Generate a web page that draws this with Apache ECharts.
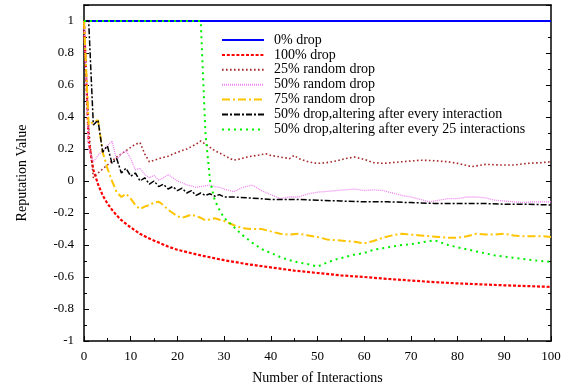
<!DOCTYPE html>
<html><head><meta charset="utf-8">
<script src="https://cdn.jsdelivr.net/npm/echarts@6/dist/echarts.min.js"></script>
<style>html,body{margin:0;padding:0;background:#fff}#c{width:579px;height:392px}</style>
</head><body><div id="c"></div>
<script>
// ---- data ----
const seriesNames = ['0% drop','100% drop','25% random drop','50% random drop','75% random drop','50% drop,altering after every interaction','50% drop,altering after every 25 interactions'];
const xTickValues = [0,10,20,30,40,50,60,70,80,90,100];
const yTickValues = [-1,-0.8,-0.6,-0.4,-0.2,0,0.2,0.4,0.6,0.8,1];

const x0 = [0,100];
const y0 = [1,1];

const x100 = [0,1,2,3,4,5,6,7,8,10,12,14,16,18,20,25,30,35,40,45,50,55,60,65,70,75,80,85,90,95,100];
const y100 = [1,0.25,0.07,-0.02,-0.09,-0.14,-0.18,-0.215,-0.245,-0.29,-0.33,-0.36,-0.385,-0.41,-0.43,-0.465,-0.495,-0.52,-0.54,-0.56,-0.575,-0.59,-0.6,-0.612,-0.622,-0.632,-0.64,-0.646,-0.652,-0.657,-0.662];

const x25r = [0,1,2,3,5,7,9,11,12,13,14,16,18,20,22,24,25,26,28,30,32,33,35,37,39,40,42,44,45,46,48,50,52,54,56,58,60,62,64,66,68,70,72,75,78,80,83,86,89,92,95,98,100];
const y25r = [1,0.33,0.02,0.05,0.1,0.15,0.19,0.23,0.24,0.17,0.12,0.14,0.155,0.18,0.2,0.23,0.25,0.23,0.19,0.16,0.13,0.135,0.15,0.16,0.17,0.16,0.15,0.14,0.16,0.14,0.12,0.11,0.115,0.125,0.14,0.15,0.135,0.115,0.11,0.115,0.12,0.125,0.13,0.127,0.12,0.11,0.09,0.104,0.1,0.1,0.11,0.115,0.12];

const x50r = [0,1,2,3,4,5,6,7,8,9,10,11,12,13,14,15,16,17,18,19,20,21,22,23,24,25,26,27,28,29,30,32,34,36,38,40,42,44,46,48,50,52,54,56,58,60,62,64,66,68,70,72,74,76,78,80,82,84,86,88,90,92,94,96,98,100];
const y50r = [1,0.2,0.12,0.16,0.19,0.22,0.25,0.13,0.17,0.19,0.14,0.07,0.08,0.04,0.02,0.035,0.005,0.02,0.04,0.02,0.0,-0.01,-0.025,-0.03,-0.04,-0.035,-0.03,-0.025,-0.035,-0.04,-0.05,-0.067,-0.04,-0.025,-0.06,-0.085,-0.11,-0.1,-0.1,-0.08,-0.07,-0.065,-0.06,-0.055,-0.05,-0.06,-0.055,-0.06,-0.075,-0.09,-0.1,-0.115,-0.13,-0.12,-0.11,-0.11,-0.1,-0.1,-0.105,-0.12,-0.125,-0.13,-0.135,-0.13,-0.13,-0.13];

const x75r = [0,1,2,3,4,5,6,7,8,9,10,11,12,13,14,15,16,17,18,19,20,21,22,23,24,25,26,27,28,30,32,34,36,38,40,42,44,46,48,50,52,54,56,58,60,62,64,66,68,70,72,74,76,78,80,82,84,86,88,90,92,94,96,98,100];
const y75r = [1,0.35,0.37,0.38,0.18,0.08,0.0,-0.07,-0.1,-0.08,-0.11,-0.15,-0.175,-0.16,-0.15,-0.135,-0.13,-0.15,-0.18,-0.2,-0.22,-0.23,-0.22,-0.21,-0.22,-0.23,-0.245,-0.24,-0.233,-0.25,-0.275,-0.295,-0.3,-0.3,-0.315,-0.33,-0.335,-0.33,-0.34,-0.35,-0.365,-0.37,-0.375,-0.38,-0.39,-0.375,-0.355,-0.34,-0.33,-0.335,-0.34,-0.345,-0.35,-0.355,-0.355,-0.345,-0.33,-0.335,-0.335,-0.33,-0.34,-0.345,-0.345,-0.345,-0.35];

const xAlt1 = [0,1,2,3,4,5,6,7,8,9,10,11,12,13,14,15,16,17,18,19,20,21,22,23,24,25,26,27,28,29,30,32,35,40,45,50,55,60,65,70,75,80,85,90,95,100];
const yAlt1 = [1,1,0.35,0.38,0.18,0.22,0.11,0.14,0.05,0.08,0.03,0.05,0.0,0.02,-0.02,0.0,-0.035,-0.02,-0.05,-0.035,-0.06,-0.045,-0.075,-0.06,-0.09,-0.075,-0.09,-0.08,-0.095,-0.085,-0.1,-0.1,-0.105,-0.115,-0.115,-0.12,-0.125,-0.13,-0.13,-0.135,-0.14,-0.14,-0.14,-0.145,-0.145,-0.15];

const xAlt25 = [0,25,26,27,28,29,30,32,34,36,38,40,42,44,46,48,50,52,54,56,58,60,62,64,66,68,70,72,75,78,80,84,88,92,96,100];
const yAlt25 = [1,1,0.3,0.0,-0.12,-0.18,-0.23,-0.285,-0.34,-0.385,-0.425,-0.45,-0.475,-0.495,-0.51,-0.52,-0.535,-0.51,-0.49,-0.475,-0.46,-0.45,-0.43,-0.42,-0.41,-0.4,-0.395,-0.385,-0.37,-0.4,-0.415,-0.44,-0.465,-0.48,-0.495,-0.505];

// ---- chart ----
const xsList = [x0,x100,x25r,x50r,x75r,xAlt1,xAlt25];
const ysList = [y0,y100,y25r,y50r,y75r,yAlt1,yAlt25];
const font = '"Liberation Serif","Times New Roman",serif';
const lineStyles = [
  {color:'#0000ff', width:1.8, type:'solid'},
  {color:'#ff0000', width:2.2, type:[3,1.8]},
  {color:'#a52a2a', width:1.6, type:[1.6,2.4]},
  {color:'#ee82ee', width:1.3, type:[1,1]},
  {color:'#ffc400', width:2, type:[8,3,2,3]},
  {color:'#000000', width:1.5, type:[6,2,2,2]},
  {color:'#00ee00', width:2, type:[2,4]}
];
const series = seriesNames.map((name,i)=>({
  name, type:'line', showSymbol:false, symbol:'none', animation:false,
  xAxisIndex:0, yAxisIndex:0,
  lineStyle:lineStyles[i], itemStyle:{color:lineStyles[i].color},
  data: xsList[i].map((x,k)=>[x, ysList[i][k]])
}));
const fmtY = v => { if (v > 1.05) return ''; const r = Math.round(v*10)/10; return (Object.is(r,-0)?0:r).toString(); };
const tickColor = {color:'#000', width:1};
const chart = echarts.init(document.getElementById('c'), null, {renderer:'canvas'});
chart.setOption({
  backgroundColor:'#fff',
  animation:false,
  grid:{left:84, right:28, top:5, bottom:51, containLabel:false},
  legend:{
    orient:'vertical', left:221, top:33, itemWidth:42, itemHeight:10, itemGap:0.9,
    padding:0,
    itemStyle:{opacity:0},
    textStyle:{fontFamily:font, fontSize:14, color:'#000', lineHeight:14, padding:[0,0,0,5]},
    data: seriesNames
  },
  xAxis:[{
    type:'value', min:0, max:100, interval:10, position:'bottom',
    axisLine:{show:true, onZero:false, lineStyle:{color:'#000', width:1.5}},
    axisTick:{show:true, inside:true, length:5, lineStyle:tickColor},
    minorTick:{show:true, splitNumber:2, length:3, lineStyle:tickColor},
    axisLabel:{color:'#000', fontFamily:font, fontSize:13, margin:9},
    splitLine:{show:false},
    name:'Number of Interactions', nameLocation:'middle', nameGap:30,
    nameTextStyle:{fontFamily:font, fontSize:14, color:'#000'}
  },{
    type:'value', min:0, max:100, interval:10, position:'top',
    axisLine:{show:true, onZero:false, lineStyle:{color:'#000', width:1.5}},
    axisTick:{show:false}, axisLabel:{show:false}, splitLine:{show:false}
  }],
  yAxis:[{
    type:'value', min:-1, max:1.1, interval:0.2, position:'left',
    axisLine:{show:true, onZero:false, lineStyle:{color:'#000', width:1.5}},
    axisTick:{show:true, inside:true, length:5, lineStyle:tickColor},
    minorTick:{show:true, splitNumber:2, length:3, lineStyle:tickColor},
    axisLabel:{color:'#000', fontFamily:font, fontSize:13, margin:10, formatter:fmtY, showMaxLabel:false},
    splitLine:{show:false},
    name:'Reputation Value', nameLocation:'middle', nameGap:55,
    nameTextStyle:{fontFamily:font, fontSize:14, color:'#000'}
  },{
    type:'value', min:-1, max:1.1, interval:0.2, position:'right',
    axisLine:{show:true, onZero:false, lineStyle:{color:'#000', width:1.5}},
    axisTick:{show:true, inside:true, length:5, lineStyle:tickColor},
    minorTick:{show:true, splitNumber:2, length:3, lineStyle:tickColor},
    axisLabel:{show:false}, splitLine:{show:false}
  }],
  series
});
</script></body></html>
